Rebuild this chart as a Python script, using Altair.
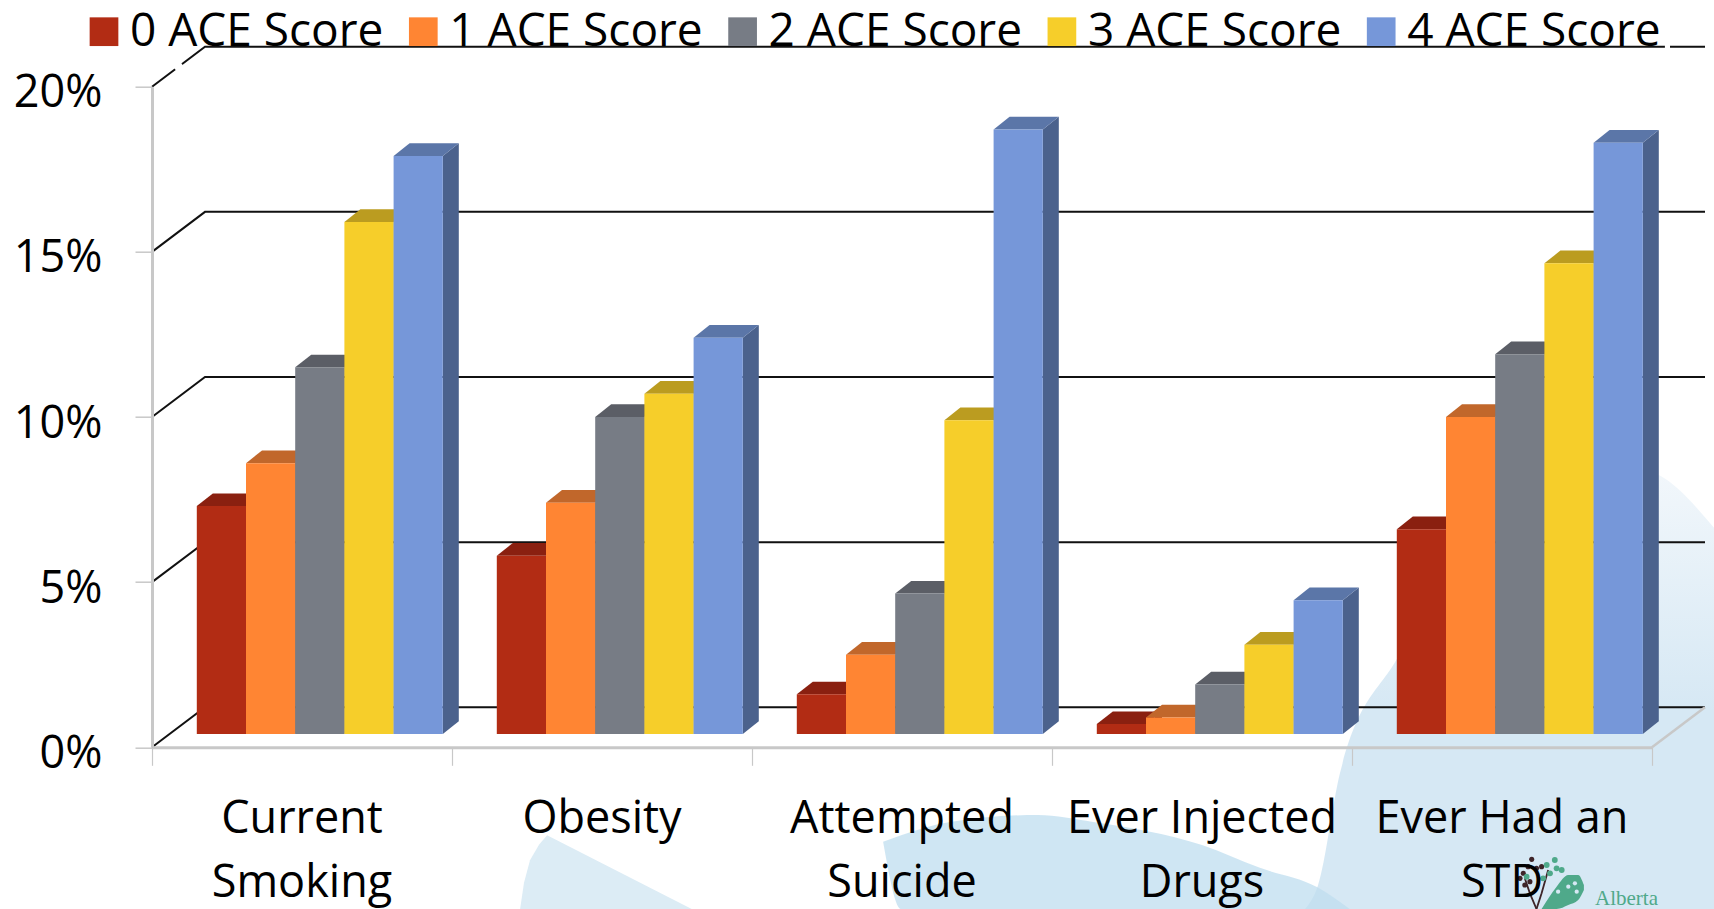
import altair as alt
import pandas as pd

# Health outcomes by ACE score, in percent
CATEGORIES = ["Current\nSmoking", "Obesity", "Attempted\nSuicide", "Ever Injected\nDrugs", "Ever Had an\nSTD"]
SERIES = ["0 ACE Score", "1 ACE Score", "2 ACE Score", "3 ACE Score", "4 ACE Score"]
SCORE_0 = [6.9, 5.4, 1.2, 0.3, 6.2]
SCORE_1 = [8.2, 7.0, 2.4, 0.5, 9.6]
SCORE_2 = [11.1, 9.6, 4.25, 1.5, 11.5]
SCORE_3 = [15.5, 10.3, 9.5, 2.7, 14.25]
SCORE_4 = [17.5, 12.0, 18.3, 4.05, 17.9]
VALUES = [SCORE_0, SCORE_1, SCORE_2, SCORE_3, SCORE_4]
Y_TICKS = [0, 5, 10, 15, 20]
X_TICKS = [0, 1, 2, 3, 4, 5]

FRONT = ["#B22C14", "#FF8533", "#777C85", "#F6CE2A", "#7697D9"]
TOP = ["#8A2010", "#C1672B", "#5B5E66", "#BB9C20", "#5B76A8"]
SIDE = ["#7C1C0E", "#B05A24", "#50535A", "#A58A1C", "#4B628D"]

# Plot scale: one x unit is a category, one y unit is a percentage point
PX_X = 300.0
PX_Y = 33.03
WALL_X = 53 / PX_X
WALL_Y = 40 / PX_Y
FLOOR_X = 44.8 / PX_X
FLOOR_Y = 13.3 / PX_Y
BAR_W = 49.2 / PX_X
DEPTH_X = 16 / PX_X
DEPTH_Y = 12.7 / PX_Y

FONT = "Open Sans"
AXIS_GREY = "#C8C8C8"

X_SCALE = alt.Scale(domain=[0, 5], nice=False, zero=False)
Y_SCALE = alt.Scale(domain=[0, 20], nice=False, zero=False)
X_AXIS = alt.Axis(
    values=X_TICKS, labels=False, title=None, grid=False, zindex=1,
    tickSize=18, tickColor=AXIS_GREY, tickWidth=1.2,
    domainColor=AXIS_GREY, domainWidth=3,
)
Y_AXIS = alt.Axis(
    values=Y_TICKS, labelExpr="datum.value + '%'", title=None, grid=False, zindex=1,
    tickSize=17, tickColor=AXIS_GREY, tickWidth=1.5,
    domainColor=AXIS_GREY, domainWidth=3,
    labelFont=FONT, labelFontSize=45, labelColor="#000000",
    labelPadding=33, labelOverlap=False, labelOffset=6,
)


def xq(field="x"):
    return alt.X(f"{field}:Q", scale=X_SCALE, axis=X_AXIS)


def yq(field="y"):
    return alt.Y(f"{field}:Q", scale=Y_SCALE, axis=Y_AXIS)


# Backdrop panels along the lower edge of the slide, in plot units
PANEL_RIGHT_X = [3.843, 3.887, 3.96, 4.153, 4.427, 4.96, 5.207]
PANEL_RIGHT_Y = [-4.9, -4.17, -0.78, 2.73, 6.58, 8.40, 6.64]
PANEL_RIGHT_Y2 = [-4.9, -4.9, -4.9, -4.9, -4.9, -4.9, -4.9]
PANEL_MID_X = [2.437, 2.497, 2.66, 2.953, 3.137, 3.5, 3.693, 3.883, 3.993]
PANEL_MID_Y = [-2.86, -2.66, -2.26, -2.05, -2.26, -2.96, -3.65, -4.23, -4.9]
PANEL_MID_Y2 = [-2.86, -4.9, -4.9, -4.9, -4.9, -4.9, -4.9, -4.9, -4.9]
PANEL_LEFT_X = [1.227, 1.24, 1.26, 1.29, 1.317, 1.8]
PANEL_LEFT_Y = [-4.9, -4.1, -3.42, -2.95, -2.66, -4.9]
PANEL_LEFT_Y2 = [-4.9, -4.9, -4.9, -4.9, -4.9, -4.9]

# Small tree emblem in the corner
LEAF_DARK_X = [4.571, 4.587, 4.593, 4.56, 4.615, 4.632, 4.576, 4.599]
LEAF_DARK_Y = [-3.815, -3.614, -4.068, -3.967, -3.664, -3.614, -4.169, -3.392]
LEAF_GREEN_X = [4.649, 4.676, 4.699, 4.66, 4.637, 4.682, 4.582]
LEAF_GREEN_Y = [-3.563, -3.412, -3.714, -3.815, -3.967, -3.664, -3.92]
LEAF_PALE_X = [4.721, 4.743, 4.687, 4.749]
LEAF_PALE_Y = [-4.219, -4.118, -4.37, -4.37]
CROWN_X = [4.632, 4.682, 4.721, 4.754, 4.773]
CROWN_Y = [-4.895, -4.219, -3.866, -3.866, -4.169]
CROWN_Y2 = [-4.895, -4.895, -4.774, -4.623, -4.32]
BRANCH_X = [4.576, 4.593, 4.615]
BRANCH_Y = [-3.967, -4.421, -4.895]
BRANCH2_X = [4.615, 4.632, 4.654]
BRANCH2_Y = [-4.895, -4.421, -3.714]

# Short breaks in the top gridline, as x ranges in plot units
BREAK_X = [0.077, 5.043]
BREAK_X1 = [0.1, 5.06]


def panel(xs, ys, y2s, color, opacity=1.0, interpolate="linear"):
    frame = pd.DataFrame({"x": xs, "y": ys, "y1": y2s})
    return (
        alt.Chart(frame)
        .mark_area(color=color, opacity=opacity, orient="vertical", interpolate=interpolate)
        .encode(x=xq(), y=yq(), y2=alt.Y2("y1:Q"))
    )


right_fill = alt.LinearGradient(
    gradient="linear",
    stops=[
        alt.GradientStop(color="#F2F7FB", offset=0),
        alt.GradientStop(color="#D6E8F4", offset=0.55),
        alt.GradientStop(color="#D6E8F4", offset=1),
    ],
    x1=1, x2=1, y1=0, y2=1,
)
backdrop = [
    panel(PANEL_RIGHT_X, PANEL_RIGHT_Y, PANEL_RIGHT_Y2, right_fill, interpolate="monotone"),
    panel(PANEL_MID_X, PANEL_MID_Y, PANEL_MID_Y2, "#BFDDEF", 0.75, interpolate="monotone"),
    panel(PANEL_LEFT_X, PANEL_LEFT_Y, PANEL_LEFT_Y2, "#DCECF5"),
]

# Back wall gridlines, each running from the front axis up the side wall and across
wall_rows = []
for level in Y_TICKS:
    wall_rows += [
        {"level": level, "x": 0, "y": level},
        {"level": level, "x": WALL_X, "y": level + WALL_Y},
        {"level": level, "x": 5 + WALL_X, "y": level + WALL_Y},
    ]
wall = (
    alt.Chart(pd.DataFrame(wall_rows))
    .mark_line(color="#111111", strokeWidth=2)
    .encode(x=xq(), y=yq(), detail="level:N")
)


def top_line_y(x):
    return 20 + WALL_Y * min(x / WALL_X, 1)


break_rows = []
for b, (x0, x1) in enumerate(zip(BREAK_X, BREAK_X1)):
    break_rows += [
        {"b": b, "x": x0, "y": top_line_y(x0)},
        {"b": b, "x": x1, "y": top_line_y(x1)},
    ]
wall_breaks = (
    alt.Chart(pd.DataFrame(break_rows))
    .mark_line(color="#FFFFFF", strokeWidth=4)
    .encode(x=xq(), y=yq(), detail="b:N")
)
floor_edge = (
    alt.Chart(pd.DataFrame({"x": [5, 5 + WALL_X], "y": [0, WALL_Y]}))
    .mark_line(color=AXIS_GREY, strokeWidth=2.5)
    .encode(x=xq(), y=yq())
)

# Three-dimensional columns: a side face, a top face and a front face for each bar
shaded = []
front_rows = []
for s, (name, values) in enumerate(zip(SERIES, VALUES)):
    side_rows, top_rows = [], []
    for c, value in enumerate(values):
        left = c + FLOOR_X + s * BAR_W
        right = left + BAR_W
        base = FLOOR_Y
        height = value + FLOOR_Y
        front_rows.append({"series": name, "x": left, "x1": right, "y": base, "y1": height})
        side_rows += [
            {"c": c, "x": right, "y": height, "y1": base},
            {"c": c, "x": right + DEPTH_X, "y": height + DEPTH_Y, "y1": base + DEPTH_Y},
        ]
        top_rows += [
            {"c": c, "y": height, "x": left, "x1": right},
            {"c": c, "y": height + DEPTH_Y, "x": left + DEPTH_X, "x1": right + DEPTH_X},
        ]
    shaded.append(
        alt.Chart(pd.DataFrame(side_rows))
        .mark_area(color=SIDE[s], orient="vertical")
        .encode(x=xq(), y=yq(), y2=alt.Y2("y1:Q"), detail="c:N")
    )
    shaded.append(
        alt.Chart(pd.DataFrame(top_rows))
        .mark_area(color=TOP[s], orient="horizontal")
        .encode(y=yq(), x=xq(), x2=alt.X2("x1:Q"), detail="c:N")
    )

fronts = (
    alt.Chart(pd.DataFrame(front_rows))
    .mark_rect(opacity=1)
    .encode(
        x=xq(),
        x2=alt.X2("x1:Q"),
        y=yq(),
        y2=alt.Y2("y1:Q"),
        color=alt.Color(
            "series:N",
            scale=alt.Scale(domain=SERIES, range=FRONT),
            legend=alt.Legend(
                title=None, orient="none", direction="horizontal", columns=5,
                legendX=-71, legendY=-78,
                symbolType="square", symbolSize=824, symbolStrokeWidth=0, symbolOpacity=1,
                labelFont=FONT, labelFontSize=46, labelColor="#000000", labelOffset=3,
                columnPadding=16.3, labelLimit=400,
            ),
        ),
    )
)

# Category labels under the floor
cat_labels = (
    alt.Chart(pd.DataFrame({"x": [i + 0.5 for i in range(5)], "label": CATEGORIES}))
    .mark_text(font=FONT, fontSize=45, color="#000000", align="center", baseline="alphabetic",
               lineBreak="\n", lineHeight=63.7)
    .encode(x=xq(), y=alt.value(746.3), text="label:N")
)

# Corner emblem
crown = panel(CROWN_X, CROWN_Y, CROWN_Y2, "#4FA98A", interpolate="monotone")
branches = [
    alt.Chart(pd.DataFrame({"x": bx, "y": by}))
    .mark_line(color="#3E2428", strokeWidth=1.8)
    .encode(x=xq(), y=yq())
    for bx, by in [(BRANCH_X, BRANCH_Y), (BRANCH2_X, BRANCH2_Y)]
]
dark_leaves = (
    alt.Chart(pd.DataFrame({"x": LEAF_DARK_X, "y": LEAF_DARK_Y}))
    .mark_point(shape="circle", filled=True, size=26, color="#3E2428", opacity=1)
    .encode(x=xq(), y=yq())
)
green_leaves = (
    alt.Chart(pd.DataFrame({"x": LEAF_GREEN_X, "y": LEAF_GREEN_Y}))
    .mark_point(shape="circle", filled=True, size=34, color="#4FA98A", opacity=1)
    .encode(x=xq(), y=yq())
)
pale_leaves = (
    alt.Chart(pd.DataFrame({"x": LEAF_PALE_X, "y": LEAF_PALE_Y}))
    .mark_point(shape="circle", filled=True, size=18, color="#D6E8F4", opacity=1)
    .encode(x=xq(), y=yq())
)
emblem_name = (
    alt.Chart(pd.DataFrame({"x": [4.81], "y": [-4.775], "t": ["Alberta"]}))
    .mark_text(font="Liberation Serif", fontSize=21, color="#4FA98A", align="left", baseline="alphabetic")
    .encode(x=xq(), y=yq(), text="t:N")
)

chart = alt.layer(
    *backdrop,
    wall,
    wall_breaks,
    floor_edge,
    *shaded,
    fronts,
    crown,
    *branches,
    dark_leaves,
    green_leaves,
    pale_leaves,
    emblem_name,
    cat_labels,
).properties(
    width=1500,
    height=660.6,
    padding={"left": 152, "top": 86.7, "right": 62, "bottom": 161.7},
    autosize=alt.AutoSizeParams(type="none"),
    background="#FFFFFF",
).configure_view(stroke=None)

chart.save("out.html", embed_options={"renderer": "svg", "actions": False})
